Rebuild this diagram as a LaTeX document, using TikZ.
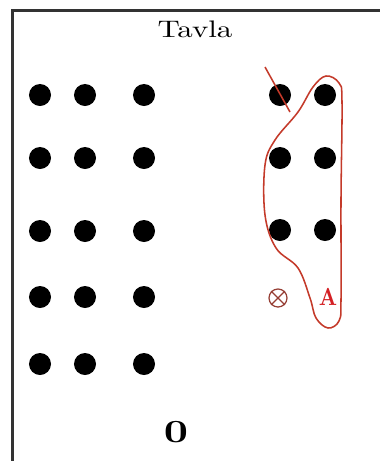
\documentclass[tikz,border=0pt]{standalone}
\usepackage{amsmath,amssymb}
\usepackage{tikz}
\usetikzlibrary{positioning}
\usepackage{xcolor}
\definecolor{penred}{RGB}{196,58,42}
\definecolor{markred}{RGB}{212,32,36}
\definecolor{crossbrown}{RGB}{150,62,52}

\begin{document}
\begin{tikzpicture}[x=0.025cm, y=-0.025cm,
		stone/.style={circle, fill=black, inner sep=0pt, minimum size=0.55cm},
		frameline/.style={line width=1.5pt, black!80},
		pen/.style={penred, line width=1.1pt}]
			\useasboundingbox (0,0) rectangle (380,461);
			\fill[white] (0,0) rectangle (380,461);
			
			% board edge
			\coordinate (tl) at (12.5,10.5);
			\coordinate (tr) at (380,10.5);
			\coordinate (bl) at (12.5,461);
			\draw [frameline] (tr) -- (tl) -- (bl);
			
			\node (title) at (195,29) {\scalebox{2.2}[1.7]{Tavla}};
			
			% left stones
			\foreach \col/\x in {a/40,b/85,c/144}
				\foreach \row/\y in {1/95,2/158,3/231,4/297,5/364}
					\node [stone] (\col\row) at (\x,\y) {};
			
			% right stones
			\foreach \col/\x in {d/280,e/325}
				\foreach \row/\y in {1/95,2/158,3/230}
					\node [stone] (\col\row) at (\x,\y) {};
			
			% crossed circle
			\node [circle, draw=crossbrown, line width=0.9pt, inner sep=0pt, minimum size=0.45cm] (cross) at (278,298) {};
			\draw [crossbrown, line width=0.9pt] (cross.45) -- (cross.225) (cross.135) -- (cross.315);
			\node [markred] (mark) at (328,297) {\scalebox{1.5}[1.75]{\bfseries A}};
			
			\node (zero) at (176,432) {\scalebox{3}[2.3]{\bfseries 0}};
			
			% pen marks
			\coordinate (s1) at (265,67);
			\coordinate (s2) at (290,112);
			\draw [pen] (s1) -- (s2);
			\draw [pen] plot [smooth cycle, tension=0.6] coordinates {
				(298,112) (313,87) (326,76) (339,83) (342,102) (341,200) (341,300)
				(339,321) (328,328) (316,318) (310,298) (298,268) (276,248)
				(265,215) (265,165) (275,140)};
			
		\end{tikzpicture}
\end{document}
